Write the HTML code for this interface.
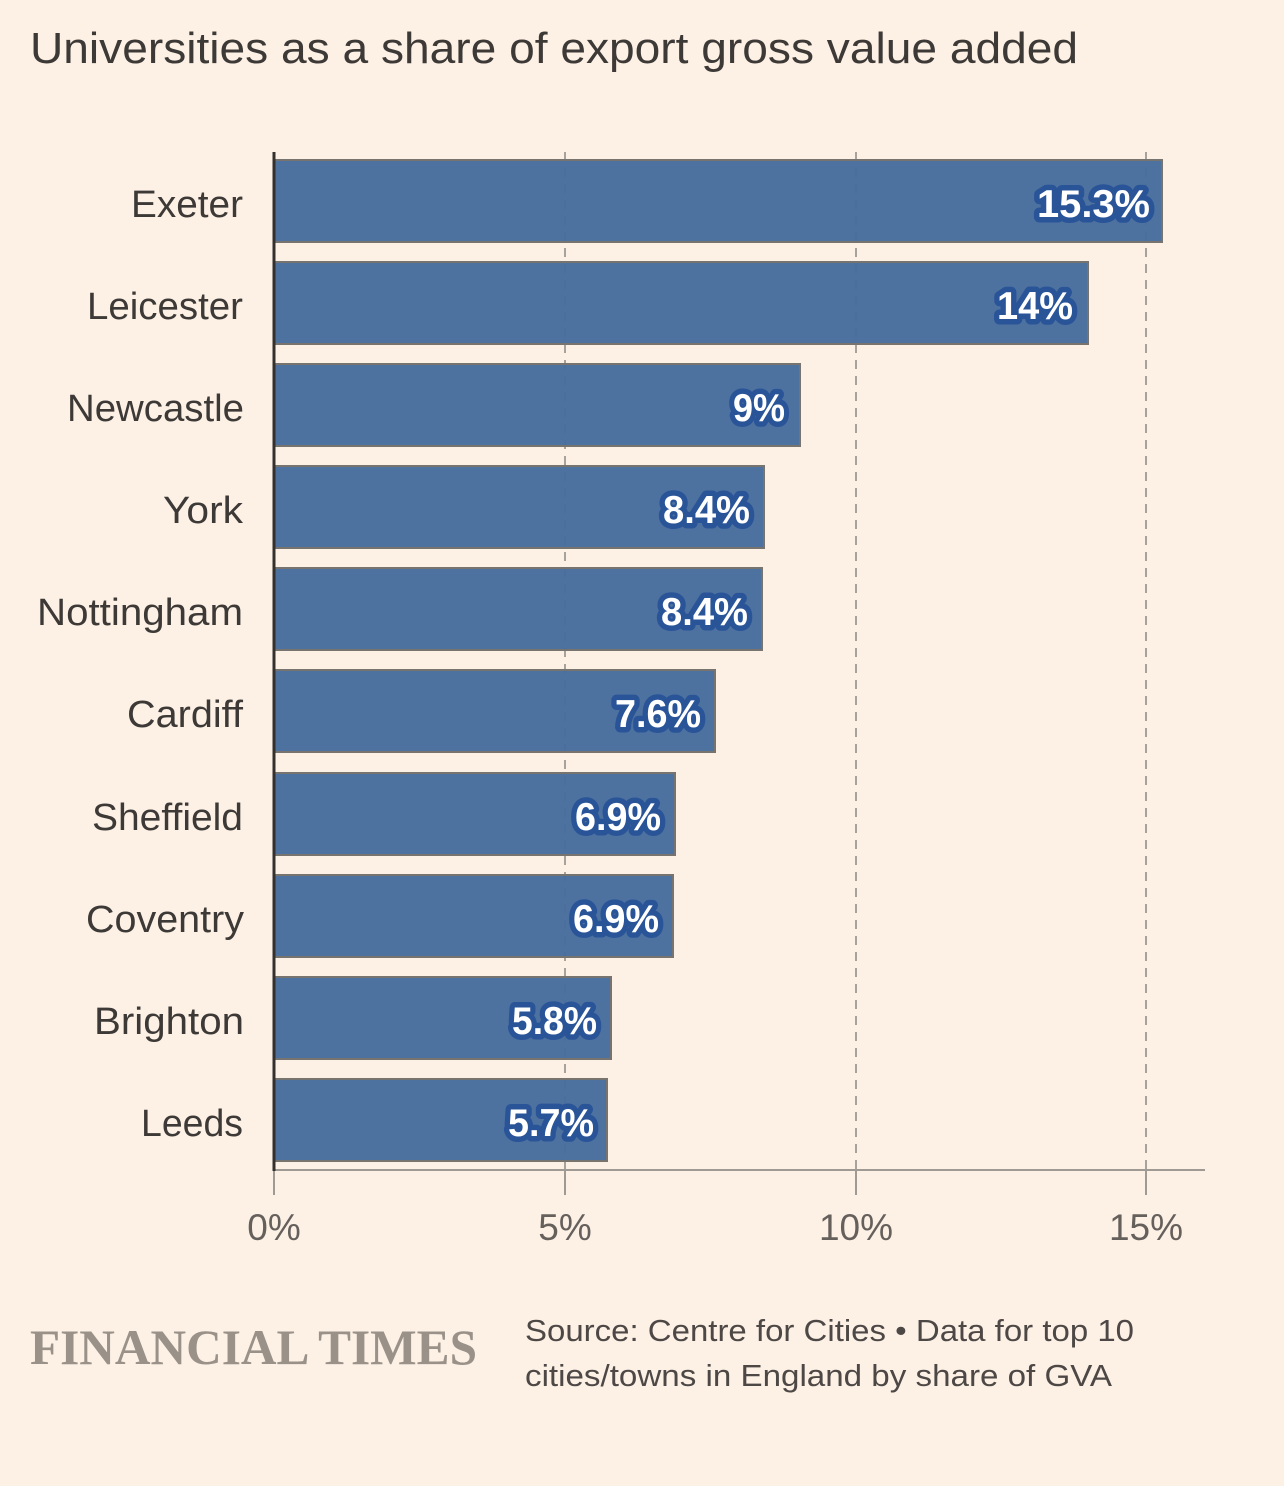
<!DOCTYPE html>
<html><head><meta charset="utf-8"><style>
html,body{margin:0;padding:0;background:#fdf1e6;}
svg{display:block;font-family:"Liberation Sans",sans-serif;}
</style></head><body>
<svg width="1284" height="1486" viewBox="0 0 1284 1486" xmlns="http://www.w3.org/2000/svg">
<rect x="0" y="0" width="1284" height="1486" fill="#fdf1e6"/>
<text x="30" y="63" font-size="44" fill="#3d3936" textLength="1048" lengthAdjust="spacingAndGlyphs">Universities as a share of export gross value added</text>
<!-- gridlines -->
<g stroke="#a8a29c" stroke-width="2" stroke-dasharray="9,7">
<line x1="565" y1="152" x2="565" y2="1170"/>
<line x1="856" y1="152" x2="856" y2="1170"/>
<line x1="1146" y1="152" x2="1146" y2="1170"/>
</g>
<!-- bars -->
<g fill="#486d9c" fill-opacity="0.97" stroke="#77736f" stroke-width="2">
<rect x="274" y="160" width="888" height="82"/>
<rect x="274" y="262" width="814" height="82"/>
<rect x="274" y="364" width="526" height="82"/>
<rect x="274" y="466" width="490" height="82"/>
<rect x="274" y="568" width="488" height="82"/>
<rect x="274" y="670" width="441" height="82"/>
<rect x="274" y="773" width="401" height="82"/>
<rect x="274" y="875" width="399" height="82"/>
<rect x="274" y="977" width="337" height="82"/>
<rect x="274" y="1079" width="333" height="82"/>
</g>
<!-- axes -->
<line x1="274" y1="1170" x2="1205" y2="1170" stroke="#a09a95" stroke-width="2"/>
<g stroke="#a09a95" stroke-width="2">
<line x1="274" y1="1170" x2="274" y2="1195"/>
<line x1="565" y1="1170" x2="565" y2="1195"/>
<line x1="856" y1="1170" x2="856" y2="1195"/>
<line x1="1146" y1="1170" x2="1146" y2="1195"/>
</g>
<line x1="274" y1="152" x2="274" y2="1171" stroke="#33302e" stroke-width="3"/>
<!-- tick labels -->
<g font-size="37" fill="#66605c" text-anchor="middle">
<text x="274" y="1240">0%</text>
<text x="565" y="1240">5%</text>
<text x="856" y="1240">10%</text>
<text x="1146" y="1240">15%</text>
</g>
<!-- category labels -->
<g font-size="38" fill="#3d3936" lengthAdjust="spacingAndGlyphs">
<text x="131" y="217" textLength="112" lengthAdjust="spacingAndGlyphs">Exeter</text>
<text x="87" y="319" textLength="156" lengthAdjust="spacingAndGlyphs">Leicester</text>
<text x="67" y="421" textLength="177" lengthAdjust="spacingAndGlyphs">Newcastle</text>
<text x="163" y="523" textLength="80" lengthAdjust="spacingAndGlyphs">York</text>
<text x="37" y="625" textLength="206" lengthAdjust="spacingAndGlyphs">Nottingham</text>
<text x="127" y="727" textLength="116" lengthAdjust="spacingAndGlyphs">Cardiff</text>
<text x="92" y="830" textLength="151" lengthAdjust="spacingAndGlyphs">Sheffield</text>
<text x="86" y="932" textLength="158" lengthAdjust="spacingAndGlyphs">Coventry</text>
<text x="94" y="1034" textLength="150" lengthAdjust="spacingAndGlyphs">Brighton</text>
<text x="141" y="1136" textLength="102" lengthAdjust="spacingAndGlyphs">Leeds</text>
</g>
<!-- value labels -->
<g font-size="39" font-weight="bold" fill="#ffffff" stroke="#2a5498" stroke-width="11" stroke-linejoin="round" paint-order="stroke">
<text x="1037" y="217" textLength="113" lengthAdjust="spacingAndGlyphs">15.3%</text>
<text x="997" y="319" textLength="76" lengthAdjust="spacingAndGlyphs">14%</text>
<text x="733" y="421" textLength="52" lengthAdjust="spacingAndGlyphs">9%</text>
<text x="663" y="523" textLength="87" lengthAdjust="spacingAndGlyphs">8.4%</text>
<text x="661" y="625" textLength="87" lengthAdjust="spacingAndGlyphs">8.4%</text>
<text x="615" y="727" textLength="86" lengthAdjust="spacingAndGlyphs">7.6%</text>
<text x="575" y="830" textLength="86" lengthAdjust="spacingAndGlyphs">6.9%</text>
<text x="573" y="932" textLength="86" lengthAdjust="spacingAndGlyphs">6.9%</text>
<text x="512" y="1034" textLength="85" lengthAdjust="spacingAndGlyphs">5.8%</text>
<text x="508" y="1136" textLength="86" lengthAdjust="spacingAndGlyphs">5.7%</text>
</g>
<!-- footer -->
<text x="30" y="1364" font-family="Liberation Serif, serif" font-weight="bold" font-size="50" fill="#9a9188" textLength="447" lengthAdjust="spacingAndGlyphs">FINANCIAL TIMES</text>
<g font-size="31" fill="#4d4845">
<text x="525" y="1341" textLength="609" lengthAdjust="spacingAndGlyphs">Source: Centre for Cities • Data for top 10</text>
<text x="525" y="1386" textLength="587" lengthAdjust="spacingAndGlyphs">cities/towns in England by share of GVA</text>
</g>
</svg>
</body></html>
